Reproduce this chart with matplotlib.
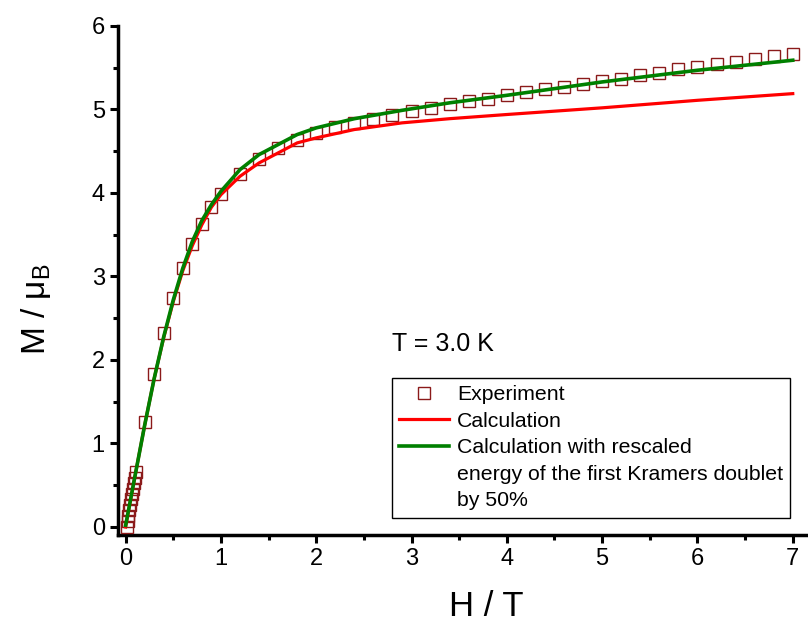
import matplotlib
matplotlib.use("Agg")
import matplotlib.pyplot as plt
from matplotlib.lines import Line2D
from matplotlib.ticker import MultipleLocator

# experimental points, H in T, M in mu_B
exp_h = [0.01, 0.02, 0.03, 0.04, 0.05, 0.06, 0.07, 0.08, 0.09, 0.10, 0.11,
         0.2, 0.3, 0.4, 0.5, 0.6, 0.7, 0.8, 0.9, 1.0,
         1.2, 1.4, 1.6, 1.8, 2.0, 2.2, 2.4, 2.6,
         2.8, 3.0, 3.2, 3.4, 3.6, 3.8, 4.0, 4.2, 4.4, 4.6, 4.8,
         5.0, 5.2, 5.4, 5.6, 5.8, 6.0, 6.2, 6.4, 6.6, 6.8, 7.0]
exp_m = [0.0, 0.07, 0.13, 0.20, 0.26, 0.33, 0.40, 0.46, 0.53, 0.59, 0.66,
         1.26, 1.83, 2.32, 2.74, 3.10, 3.39, 3.63, 3.83, 3.99,
         4.23, 4.41, 4.54, 4.63, 4.72, 4.79, 4.84, 4.89,
         4.94, 4.98, 5.02, 5.06, 5.10, 5.13, 5.17, 5.21, 5.24, 5.27, 5.31,
         5.34, 5.37, 5.41, 5.44, 5.48, 5.51, 5.54, 5.57, 5.61, 5.64, 5.67]

# calculation
calc_h = [0.0, 0.1, 0.2, 0.3, 0.4, 0.5, 0.6, 0.7, 0.8, 0.9, 1.0, 1.2, 1.4, 1.6,
          1.8, 2.0, 2.4, 2.9, 3.4, 4.0, 5.0, 6.0, 7.0]
calc_m = [0.0, 0.62, 1.22, 1.78, 2.27, 2.70, 3.07, 3.37, 3.62, 3.83, 3.98, 4.20,
          4.36, 4.48, 4.60, 4.66, 4.76, 4.84, 4.89, 4.94, 5.02, 5.11, 5.19]

# calculation with rescaled first Kramers doublet
resc_h = [0.0, 0.1, 0.2, 0.3, 0.4, 0.5, 0.6, 0.7, 0.8, 0.9, 1.0, 1.2, 1.4, 1.6,
          1.8, 2.0, 2.4, 2.9, 3.4, 4.0, 5.0, 6.0, 7.0]
resc_m = [0.02, 0.62, 1.22, 1.78, 2.28, 2.72, 3.10, 3.42, 3.67, 3.86, 4.02, 4.28,
          4.46, 4.58, 4.70, 4.78, 4.89, 4.99, 5.08, 5.17, 5.33, 5.47, 5.59]

plt.rcParams["font.family"] = ["Liberation Sans", "DejaVu Sans"]
plt.rcParams["mathtext.default"] = "regular"

fig = plt.figure(figsize=(8.08, 6.25), dpi=100)
ax = fig.add_axes([118 / 808, 90.5 / 625, 690 / 808, 508.5 / 625])

ax.plot(exp_h, exp_m, linestyle="none", marker="s", markersize=8.5,
        markerfacecolor="none", markeredgecolor="#8b1a1a", markeredgewidth=1.0,
        label="Experiment", zorder=3)
ax.plot(calc_h, calc_m, color="#ff0000", linewidth=2.3, label="Calculation", zorder=4)
ax.plot(resc_h, resc_m, color="#008000", linewidth=2.6,
        label="Calculation with rescaled", zorder=5)

ax.set_xlim(-0.08, 7.16)
ax.set_ylim(-0.09, 6.0)
ax.xaxis.set_major_locator(MultipleLocator(1))
ax.xaxis.set_minor_locator(MultipleLocator(0.5))
ax.yaxis.set_major_locator(MultipleLocator(1))
ax.yaxis.set_minor_locator(MultipleLocator(0.5))

for s in ["top", "right"]:
    ax.spines[s].set_visible(False)
for s in ["left", "bottom"]:
    ax.spines[s].set_linewidth(2.5)

ax.tick_params(which="major", direction="out", length=5.5, width=2.2, pad=4,
               labelsize=17)
ax.tick_params(which="minor", direction="out", length=3.5, width=2.2)

ax.set_xlabel("H / T", fontsize=25)
ax.xaxis.label.set_va("baseline")
ax.xaxis.set_label_coords(0.533, -0.160)
ax.set_ylabel("M / μ$_B$", fontsize=24)
ax.yaxis.set_label_coords(-0.094, 0.4435)

fig.text(392 / 808, 1 - 344 / 625, "T = 3.0 K", fontsize=18, va="center", ha="left")

handles, labels = ax.get_legend_handles_labels()
blank = Line2D([], [], linestyle="none")
handles += [blank, blank]
labels += ["energy of the first Kramers doublet", "by 50%"]
leg = fig.legend(handles, labels, loc="upper left",
                 bbox_to_anchor=(392 / 808, 1 - 378 / 625),
                 bbox_transform=fig.transFigure, fontsize=15.3, numpoints=1,
                 handlelength=2.35, handletextpad=0.35, labelspacing=0.35,
                 borderpad=0.35, borderaxespad=0, fancybox=False,
                 frameon=True, edgecolor="black", framealpha=1)
leg.get_frame().set_linewidth(1.0)

fig.savefig("out.png", dpi=100)
